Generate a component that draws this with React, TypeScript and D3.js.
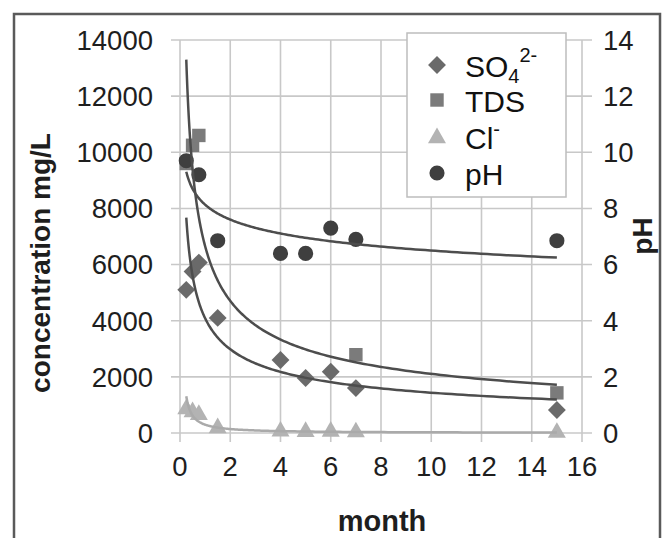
import React from "react";
import * as d3 from "d3";

// ---- data ----
const so4Month = [0.25, 0.5, 0.75, 1.5, 4, 5, 6, 7, 15];
const so4Value = [5100, 5750, 6070, 4100, 2600, 1960, 2180, 1600, 820];

const tdsMonth = [0.25, 0.5, 0.75, 7, 15];
const tdsValue = [9600, 10250, 10600, 2790, 1430];

const clMonth = [0.25, 0.5, 0.75, 1.5, 4, 5, 6, 7, 15];
const clValue = [850, 750, 650, 180, 60, 45, 55, 35, 15];

const phMonth = [0.25, 0.75, 1.5, 4, 5, 6, 7, 15];
const phValue = [9.7, 9.2, 6.85, 6.4, 6.4, 7.3, 6.9, 6.85];

const xTicks = [0, 2, 4, 6, 8, 10, 12, 14, 16];
const yLeftTicks = [0, 2000, 4000, 6000, 8000, 10000, 12000, 14000];
const yRightTicks = [0, 2, 4, 6, 8, 10, 12, 14];

// power trendline fit (least squares in log-log space, like a spreadsheet trendline)
function powerFit(xs: number[], ys: number[]) {
  const lx = xs.map(Math.log);
  const ly = ys.map(Math.log);
  const mx = d3.mean(lx)!;
  const my = d3.mean(ly)!;
  let sxy = 0, sxx = 0;
  lx.forEach((v, i) => {
    sxy += (v - mx) * (ly[i] - my);
    sxx += (v - mx) * (v - mx);
  });
  const b = sxy / sxx;
  const a = Math.exp(my - b * mx);
  return (x: number) => a * Math.pow(x, b);
}

const W = 667, H = 538;
const FONT = "'Liberation Sans', Arial, sans-serif";

export default function App() {
  const x = d3.scaleLinear().domain([0, 16]).range([180, 582]);
  const yL = d3.scaleLinear().domain([0, 14000]).range([433, 40]);
  const yR = d3.scaleLinear().domain([0, 14]).range([433, 40]);

  const trend = (xs: number[], ys: number[], yS: d3.ScaleLinear<number, number>) => {
    const f = powerFit(xs, ys);
    const [lo, hi] = d3.extent(xs) as [number, number];
    const pts = d3.range(0, 201).map((i) => {
      const t = lo * Math.pow(hi / lo, i / 200);
      return [t, f(t)] as [number, number];
    });
    return d3
      .line<[number, number]>()
      .x((d) => x(d[0]))
      .y((d) => yS(d[1]))(pts)!;
  };

  const diamond = d3.symbol(d3.symbolSquare, 160)()!;
  const square = d3.symbol(d3.symbolSquare, 180)()!;
  const tri = d3.symbol(d3.symbolTriangle, 140)()!;
  const circ = d3.symbol(d3.symbolCircle, 180)()!;

  const cDia = "#6a6a6a";
  const cSq = "#7b7b7b";
  const cTri = "#b3b3b3";
  const cCirc = "#3f3f3f";
  const cLine = "#4d4d4d";
  const cGrid = "#c8c8c8";
  const cText = "#1e1e1e";

  return (
    <svg
      width={W}
      height={H}
      style={{ position: "absolute", left: 0, top: 0, background: "#fff" }}
      fontFamily={FONT}
    >
      <rect x={0} y={0} width={W} height={H} fill="#fff" />
      {/* frame */}
      <path d={`M14,${H} L14,14 L660,14 L660,${H}`} fill="none" stroke="#5a5a5a" strokeWidth={2.5} />

      {/* gridlines */}
      {yLeftTicks.map((t) => (
        <line key={"h" + t} x1={171} x2={592} y1={yL(t)} y2={yL(t)} stroke={cGrid} strokeWidth={1.6} />
      ))}
      {xTicks.map((t) => (
        <line key={"v" + t} x1={x(t)} x2={x(t)} y1={40} y2={442} stroke={cGrid} strokeWidth={1.6} />
      ))}

      {/* left tick labels */}
      {yLeftTicks.map((t) => (
        <text key={"lt" + t} x={153} y={yL(t)} dy="0.36em" textAnchor="end" fontSize={27.5} fill={cText}>
          {t}
        </text>
      ))}
      {/* right tick labels */}
      {yRightTicks.map((t) => (
        <text key={"rt" + t} x={603} y={yR(t)} dy="0.36em" textAnchor="start" fontSize={27.5} fill={cText}>
          {t}
        </text>
      ))}
      {/* x tick labels */}
      {xTicks.map((t) => (
        <text key={"xt" + t} x={x(t)} y={466} dy="0.36em" textAnchor="middle" fontSize={27.5} fill={cText}>
          {t}
        </text>
      ))}

      {/* axis titles */}
      <text x={382} y={521} dy="0.36em" textAnchor="middle" fontSize={29} fontWeight="bold" fill={cText}>
        month
      </text>
      <text
        transform={`translate(40,263) rotate(-90)`}
        dy="0.36em"
        textAnchor="middle"
        fontSize={28}
        fontWeight="bold"
        fill={cText}
      >
        concentration mg/L
      </text>
      <text
        transform={`translate(642,236) rotate(-90)`}
        dy="0.36em"
        textAnchor="middle"
        fontSize={28}
        fontWeight="bold"
        fill={cText}
      >
        pH
      </text>

      {/* markers */}
      {so4Month.map((m, i) => (
        <path key={"s" + i} d={diamond} transform={`translate(${x(m)},${yL(so4Value[i])}) rotate(45)`} fill={cDia} />
      ))}
      {tdsMonth.map((m, i) => (
        <path key={"t" + i} d={square} transform={`translate(${x(m)},${yL(tdsValue[i])})`} fill={cSq} />
      ))}
      {clMonth.map((m, i) => (
        <path key={"c" + i} d={tri} transform={`translate(${x(m)},${yL(clValue[i])})`} fill={cTri} />
      ))}
      {phMonth.map((m, i) => (
        <path key={"p" + i} d={circ} transform={`translate(${x(m)},${yR(phValue[i])})`} fill={cCirc} />
      ))}

      {/* trendlines */}
      <path d={trend(clMonth, clValue, yL)} fill="none" stroke="#aaaaaa" strokeWidth={2.5} />
      <path d={trend(so4Month, so4Value, yL)} fill="none" stroke={cLine} strokeWidth={2.5} />
      <path d={trend(tdsMonth, tdsValue, yL)} fill="none" stroke={cLine} strokeWidth={2.5} />
      <path d={trend(phMonth, phValue, yR)} fill="none" stroke={cLine} strokeWidth={2.5} />

      {/* legend */}
      <rect x={407} y={33} width={159} height={164} fill="#fff" stroke="#bdbdbd" strokeWidth={1.5} />
      <path d={diamond} transform="translate(437,65) rotate(45)" fill={cDia} />
      <path d={square} transform="translate(437,100)" fill={cSq} />
      <path d={tri} transform="translate(437,138)" fill={cTri} />
      <path d={circ} transform="translate(437,173)" fill={cCirc} />
      <text x={465} y={66} dy="0.36em" fontSize={30} fill="#111">
        SO<tspan fontSize={20} dy="6">4</tspan>
        <tspan fontSize={20} dy="-21">2-</tspan>
      </text>
      <text x={465} y={101} dy="0.36em" fontSize={30} fill="#111">
        TDS
      </text>
      <text x={465} y={138} dy="0.36em" fontSize={30} fill="#111">
        Cl<tspan fontSize={20} dy="-13">-</tspan>
      </text>
      <text x={465} y={174} dy="0.36em" fontSize={30} fill="#111">
        pH
      </text>
    </svg>
  );
}
